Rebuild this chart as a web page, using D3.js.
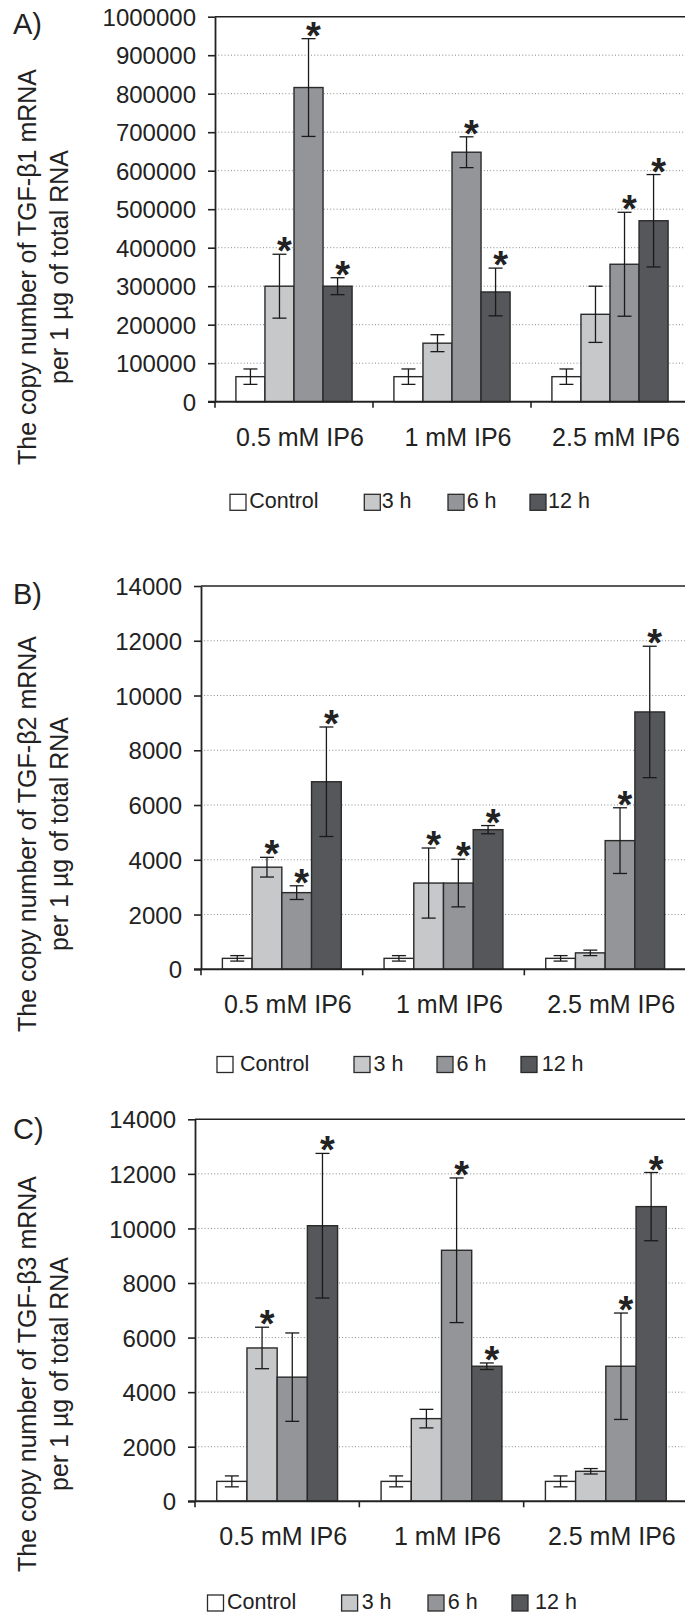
<!DOCTYPE html>
<html><head><meta charset="utf-8">
<script src="https://cdn.jsdelivr.net/npm/d3@7"></script>
<style>
body{margin:0;background:#fff}
svg{display:block}
text{font-family:"Liberation Sans",Arial,Helvetica,sans-serif;fill:#222}
</style>
</head><body>
<svg id="chart" width="685" height="1616"></svg>
<script>
// ---------------- DATA ----------------
const categories = ["0.5 mM IP6", "1 mM IP6", "2.5 mM IP6"];
const seriesNames = ["Control", "3 h", "6 h", "12 h"];

// Panel A: TGF-β1 (rows = categories, columns = series)
const tgfb1Means = [[65000, 300000, 816000, 300000], [65000, 152000, 648000, 285000], [65000, 227000, 357000, 470000]];
const tgfb1Errors = [[20000, 83000, 127000, 22000], [20000, 22000, 40000, 62000], [20000, 73000, 135000, 120000]];
const tgfb1Stars = [[0, 1, 1, 1], [0, 0, 1, 1], [0, 0, 1, 1]];
const tgfb1Ticks = [0, 100000, 200000, 300000, 400000, 500000, 600000, 700000, 800000, 900000, 1000000];

// Panel B: TGF-β2
const tgfb2Means = [[400, 3730, 2800, 6850], [400, 3150, 3150, 5100], [400, 600, 4700, 9400]];
const tgfb2Errors = [[100, 360, 250, 2000], [100, 1280, 870, 150], [100, 100, 1200, 2400]];
const tgfb2Stars = [[0, 1, 1, 1], [0, 1, 1, 1], [0, 0, 1, 1]];
const tgfb2Ticks = [0, 2000, 4000, 6000, 8000, 10000, 12000, 14000];

// Panel C: TGF-β3
const tgfb3Means = [[730, 5620, 4550, 10100], [730, 3030, 9200, 4950], [730, 1100, 4950, 10800]];
const tgfb3Errors = [[200, 760, 1620, 2650], [200, 340, 2650, 120], [200, 100, 1950, 1250]];
const tgfb3Stars = [[0, 1, 0, 1], [0, 0, 1, 1], [0, 0, 1, 1]];
const tgfb3Ticks = [0, 2000, 4000, 6000, 8000, 10000, 12000, 14000];

const titleLine1 = ["The copy number of TGF-β1 mRNA", "The copy number of TGF-β2 mRNA", "The copy number of TGF-β3 mRNA"];
const titleLine2 = "per 1 µg of total RNA";
const panelLetters = ["A)", "B)", "C)"];

// ---------------- STYLE / LAYOUT ----------------
const seriesFill = ["#ffffff", "#c7c8ca", "#949599", "#55575a"];

const panels = [
  {means: tgfb1Means, errs: tgfb1Errors, stars: tgfb1Stars, ticks: tgfb1Ticks,
   x0: 215, x1: 689, yTop: 16.7, yBot: 401.7, letterY: 34, titleY: 267, legBase: 508.3,
   legBox: [230, 364.3, 448, 530], legText: [249.3, 381.7, 466.7, 548]},
  {means: tgfb2Means, errs: tgfb2Errors, stars: tgfb2Stars, ticks: tgfb2Ticks,
   x0: 201, x1: 686, yTop: 586, yBot: 969.3, letterY: 604, titleY: 834, legBase: 1070.5,
   legBox: [217, 354, 437, 521], legText: [240, 373.5, 456.5, 541.7]},
  {means: tgfb3Means, errs: tgfb3Errors, stars: tgfb3Stars, ticks: tgfb3Ticks,
   x0: 195, x1: 688, yTop: 1119.3, yBot: 1501.3, letterY: 1139, titleY: 1374, legBase: 1609,
   legBox: [207.5, 341.6, 428, 512], legText: [227, 361.7, 447.8, 535]}
];

const svg = d3.select("#chart");

panels.forEach((p, pi) => {
  const g = svg.append("g");
  const yMax = p.ticks[p.ticks.length - 1];
  const y = d3.scaleLinear().domain([0, yMax]).range([p.yBot, p.yTop]);
  const xg = d3.scaleBand().domain(categories).range([p.x0, p.x1]).padding(0);
  const xs = d3.scaleBand().domain(seriesNames).range([0, xg.bandwidth()]).paddingInner(0).paddingOuter(0.72);

  // gridlines (dotted)
  g.append("g").selectAll("line").data(p.ticks.slice(1, -1)).join("line")
    .attr("x1", p.x0).attr("x2", 685)
    .attr("y1", d => y(d)).attr("y2", d => y(d))
    .attr("stroke", "#8a8a8a").attr("stroke-width", 1).attr("stroke-dasharray", "1,2.2");

  // top frame line
  g.append("line").attr("x1", p.x0).attr("x2", 685).attr("y1", y(yMax)).attr("y2", y(yMax))
    .attr("stroke", "#222").attr("stroke-width", 1.6);

  // bars
  const groups = g.append("g").selectAll("g").data(categories).join("g")
    .attr("transform", d => `translate(${xg(d)},0)`);
  groups.each(function(cat, ci) {
    const gg = d3.select(this);
    seriesNames.forEach((s, si) => {
      const v = p.means[ci][si];
      gg.append("rect")
        .attr("x", xs(s)).attr("width", xs.bandwidth())
        .attr("y", y(v)).attr("height", y(0) - y(v))
        .attr("fill", seriesFill[si]).attr("stroke", "#2a2a2a").attr("stroke-width", 1.4);
    });
    seriesNames.forEach((s, si) => {
      const v = p.means[ci][si], e = p.errs[ci][si];
      const cx = xs(s) + xs.bandwidth() / 2;
      const yt = y(v + e), yb = y(Math.max(0, v - e));
      gg.append("line").attr("x1", cx).attr("x2", cx).attr("y1", yt).attr("y2", yb)
        .attr("stroke", "#1a1a1a").attr("stroke-width", 1.3);
      [yt, yb].forEach(yy => gg.append("line").attr("x1", cx - 7).attr("x2", cx + 7)
        .attr("y1", yy).attr("y2", yy).attr("stroke", "#1a1a1a").attr("stroke-width", 1.3));
      if (p.stars[ci][si]) {
        gg.append("text").attr("x", cx + 5).attr("y", yt + 10)
          .attr("text-anchor", "middle").attr("font-size", 38).attr("font-weight", "bold")
          .text("*");
      }
    });
  });

  // y axis
  const yAxis = d3.axisLeft(y).tickValues(p.ticks).tickFormat(d3.format("d"))
    .tickSize(7).tickSizeOuter(0).tickPadding(12);
  const ya = g.append("g").attr("transform", `translate(${p.x0},0)`).call(yAxis);
  ya.select(".domain").attr("stroke", "#222").attr("stroke-width", 1.8);
  ya.selectAll(".tick line").attr("stroke", "#222").attr("stroke-width", 1.6);
  ya.selectAll(".tick text").attr("font-size", 24).attr("fill", "#222")
    .attr("font-family", "'Liberation Sans', Arial, sans-serif").attr("dy", "0.36em");

  // x axis
  g.append("line").attr("x1", p.x0 - 7).attr("x2", 685).attr("y1", p.yBot).attr("y2", p.yBot)
    .attr("stroke", "#222").attr("stroke-width", 2);
  const bounds = categories.map(c => xg(c));
  g.append("g").selectAll("line").data(bounds).join("line")
    .attr("x1", d => d).attr("x2", d => d).attr("y1", p.yBot).attr("y2", p.yBot + 6)
    .attr("stroke", "#222").attr("stroke-width", 1.6);

  // category labels
  g.append("g").selectAll("text").data(categories).join("text")
    .attr("x", d => xg(d) + xg.bandwidth() / 2 + 6).attr("y", p.yBot + 44)
    .attr("text-anchor", "middle").attr("font-size", 25).text(d => d);

  // panel letter
  g.append("text").attr("x", 13).attr("y", p.letterY).attr("font-size", 29).text(panelLetters[pi]);

  // y title
  g.append("text").attr("transform", `translate(36,${p.titleY}) rotate(-90)`)
    .attr("text-anchor", "middle").attr("font-size", 25).text(titleLine1[pi]);
  g.append("text").attr("transform", `translate(68,${p.titleY}) rotate(-90)`)
    .attr("text-anchor", "middle").attr("font-size", 25).text(titleLine2);

  // legend
  seriesNames.forEach((s, si) => {
    g.append("rect").attr("x", p.legBox[si]).attr("y", p.legBase - 14).attr("width", 16).attr("height", 16)
      .attr("fill", seriesFill[si]).attr("stroke", "#2a2a2a").attr("stroke-width", 1.3);
    g.append("text").attr("x", p.legText[si]).attr("y", p.legBase).attr("font-size", 21.5).text(s);
  });
});
</script>
</body></html>
